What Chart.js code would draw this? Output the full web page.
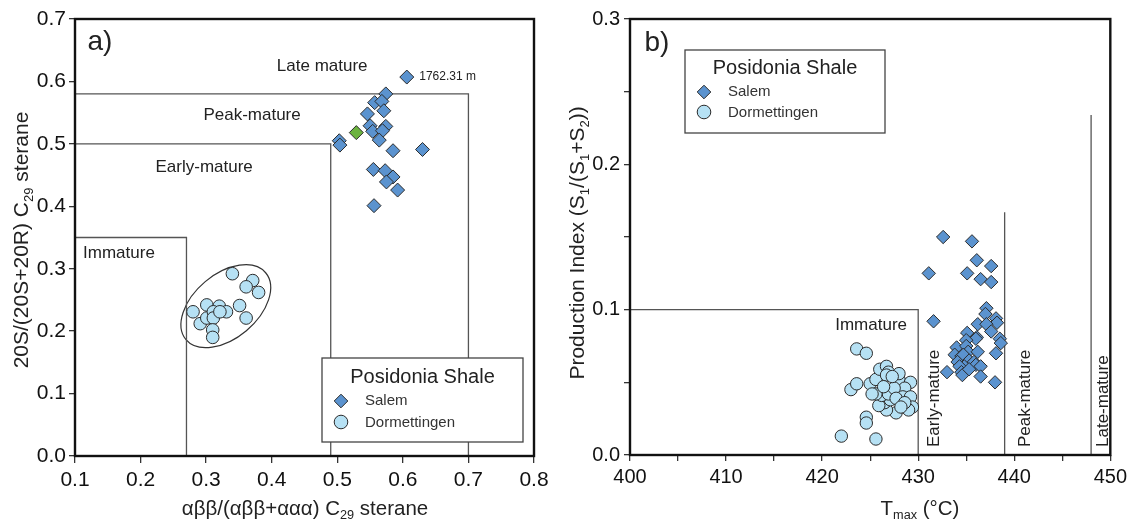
<!DOCTYPE html>
<html><head><meta charset="utf-8">
<script src="https://cdn.jsdelivr.net/npm/chart.js@4"></script>
<style>
html,body{margin:0;padding:0;background:#fff;}
#wrap{position:relative;width:1131px;height:522px;overflow:hidden;}
canvas{position:absolute;top:0;}
#ca{left:0;} #cb{left:560px;}
</style></head><body>
<div id="wrap"><canvas id="ca" width="560" height="522"></canvas><canvas id="cb" width="571" height="522"></canvas></div>
<script>
const FONT = "'Liberation Sans', Arial, Helvetica, sans-serif";

// ---------- Panel a data ----------
const aXTickLabels = ['0.1','0.2','0.3','0.4','0.5','0.6','0.7','0.8'];
const aYTickLabels = ['0.0','0.1','0.2','0.3','0.4','0.5','0.6','0.7'];
const aSalem = [[0.606,0.607],[0.574,0.580],[0.557,0.566],[0.568,0.568],[0.571,0.553],[0.546,0.548],
  [0.550,0.529],[0.574,0.528],[0.554,0.520],[0.569,0.521],[0.564,0.506],[0.503,0.505],[0.504,0.498],
  [0.585,0.489],[0.630,0.491],[0.555,0.459],[0.573,0.457],[0.585,0.447],[0.575,0.439],[0.592,0.426],[0.556,0.401]];
const aSalemHighlight = [[0.529,0.518]];
const aDormettingen = [[0.340,0.292],[0.371,0.281],[0.361,0.271],[0.380,0.262],[0.280,0.231],[0.301,0.242],
  [0.320,0.240],[0.331,0.231],[0.351,0.241],[0.361,0.221],[0.291,0.212],[0.301,0.221],[0.311,0.231],
  [0.311,0.221],[0.321,0.231],[0.310,0.202],[0.310,0.190]];
const aImmature = [[0.1,0.35],[0.27,0.35],[0.27,0]];
const aEarly = [[0.1,0.5],[0.49,0.5],[0.49,0]];
const aPeak = [[0.1,0.58],[0.7,0.58],[0.7,0]];

// ---------- Panel b data ----------
const bXTickLabels = ['400','410','420','430','440','450'];
const bYTickLabels = ['0.0','0.1','0.2','0.3'];
const bSalem = [[432.6,0.150],[435.6,0.147],[431.1,0.125],[436.1,0.134],[437.6,0.130],[435.1,0.125],[436.5,0.121],
  [437.6,0.119],[431.6,0.092],[437.1,0.101],[437.0,0.097],[438.1,0.094],[438.2,0.091],[436.2,0.090],[437.1,0.090],
  [435.1,0.084],[437.6,0.085],[436.1,0.081],[436.0,0.080],[438.5,0.080],[438.6,0.077],[435.0,0.079],[434.0,0.074],
  [435.0,0.075],[435.2,0.071],[436.2,0.071],[438.1,0.070],[433.8,0.069],[434.5,0.068],[434.7,0.069],[434.1,0.064],
  [435.3,0.065],[435.8,0.064],[436.0,0.062],[434.8,0.061],[436.5,0.061],[434.3,0.061],[433.0,0.057],[434.5,0.057],
  [434.6,0.055],[435.3,0.059],[436.5,0.054],[438.0,0.050]];
const bDormettingen = [[423.6,0.073],[424.6,0.070],[422.0,0.013],[425.6,0.011],[424.6,0.026],[424.6,0.022],
  [423.0,0.045],[423.6,0.049],[425.0,0.049],[425.6,0.052],[426.0,0.059],[426.7,0.061],[426.9,0.057],[426.7,0.055],
  [428.0,0.052],[429.2,0.050],[428.6,0.046],[428.4,0.040],[429.2,0.040],[429.4,0.033],[429.0,0.031],[427.7,0.029],
  [426.7,0.031],[426.5,0.036],[425.9,0.034],[427.1,0.038],[426.2,0.041],[426.9,0.042],[425.6,0.042],[425.2,0.042],
  [427.5,0.046],[426.4,0.047],[428.0,0.056],[427.3,0.054],[427.7,0.039],[428.6,0.036],[428.2,0.033]];
const bImmature = [[400,0.1],[430,0.1],[430,0]];
const bPeak = [[439,0],[439,0.167]];
const bLate = [[448,0],[448,0.234]];

// ---------- helpers ----------
const pts = arr => arr.map(([x,y]) => ({x, y}));
function labelFrom(list){
  return function(v){
    for (const l of list){ if (Math.abs(parseFloat(l) - v) < 1e-6) return l; }
    return '';
  };
}
const SALEM_FILL = '#5b93cf', DORM_FILL = '#b6e1f4', EDGE = '#2b2b2b';
function pointSet(label, data, style, r, fill){
  return {label, data: pts(data), pointStyle: style, pointRadius: r, pointHoverRadius: r,
    backgroundColor: fill, borderColor: EDGE, borderWidth: 1, showLine: false, order: 1};
}
function lineSet(data){
  return {label: '', data: pts(data), showLine: true, pointRadius: 0, borderColor: '#555',
    borderWidth: 1.3, fill: false, tension: 0, order: 5};
}
function drawRich(ctx, parts, cx, cy, size, rot, color){
  ctx.save();
  ctx.translate(cx, cy);
  if (rot) ctx.rotate(rot);
  ctx.fillStyle = color || '#222';
  ctx.textBaseline = 'middle';
  ctx.textAlign = 'left';
  let total = 0;
  const widths = parts.map(p => {
    ctx.font = (p.sub ? size*0.62 : size) + 'px ' + FONT;
    const w = ctx.measureText(p.t).width; total += w; return w;
  });
  let x = -total/2;
  parts.forEach((p,i) => {
    ctx.font = (p.sub ? size*0.62 : size) + 'px ' + FONT;
    ctx.fillText(p.t, x, p.sub ? size*0.33 : 0);
    x += widths[i];
  });
  ctx.restore();
}
function diamond(ctx, x, y, r, fill){
  ctx.beginPath();
  ctx.moveTo(x - r, y); ctx.lineTo(x, y - r); ctx.lineTo(x + r, y); ctx.lineTo(x, y + r); ctx.closePath();
  ctx.fillStyle = fill; ctx.fill(); ctx.strokeStyle = EDGE; ctx.lineWidth = 1; ctx.stroke();
}
function circle(ctx, x, y, r, fill){
  ctx.beginPath(); ctx.arc(x, y, r, 0, Math.PI*2);
  ctx.fillStyle = fill; ctx.fill(); ctx.strokeStyle = EDGE; ctx.lineWidth = 1; ctx.stroke();
}

const deco = {
  id: 'deco',
  beforeDatasetsDraw(chart, args, o){
    const ctx = chart.ctx, xs = chart.scales.x, ys = chart.scales.y;
    if (o.ellipse){
      const e = o.ellipse;
      ctx.save();
      ctx.beginPath();
      ctx.ellipse(xs.getPixelForValue(e.cx), ys.getPixelForValue(e.cy), e.rx, e.ry, e.rot*Math.PI/180, 0, Math.PI*2);
      ctx.strokeStyle = '#333'; ctx.lineWidth = 1.2; ctx.stroke();
      ctx.restore();
    }
  },
  afterDatasetsDraw(chart, args, o){
    const ctx = chart.ctx, xs = chart.scales.x, ys = chart.scales.y, ca = chart.chartArea;
    ctx.save();
    (o.labels || []).forEach(l => {
      ctx.save();
      ctx.font = l.size + 'px ' + FONT;
      ctx.fillStyle = '#222';
      ctx.textBaseline = 'middle';
      const px = xs.getPixelForValue(l.x), py = ys.getPixelForValue(l.y);
      if (l.rot){
        ctx.translate(px, py); ctx.rotate(-Math.PI/2); ctx.textAlign = 'left'; ctx.fillText(l.t, 0, 0);
      } else {
        ctx.textAlign = l.align || 'center'; ctx.fillText(l.t, px, py);
      }
      ctx.restore();
    });
    const L = o.legend;
    if (L){
      ctx.fillStyle = '#fff'; ctx.fillRect(L.x, L.y, L.w, L.h);
      ctx.strokeStyle = '#444'; ctx.lineWidth = 1.3; ctx.strokeRect(L.x, L.y, L.w, L.h);
      ctx.fillStyle = '#222'; ctx.font = '20px ' + FONT; ctx.textAlign = 'center'; ctx.textBaseline = 'middle';
      ctx.fillText('Posidonia Shale', L.x + L.w/2, L.y + L.ty);
      diamond(ctx, L.x + L.mx, L.y + L.y1, 6.8, SALEM_FILL);
      circle(ctx, L.x + L.mx, L.y + L.y2, 6.8, DORM_FILL);
      ctx.fillStyle = '#333'; ctx.font = '15px ' + FONT; ctx.textAlign = 'left';
      ctx.fillText('Salem', L.x + L.tx, L.y + L.y1);
      ctx.fillText('Dormettingen', L.x + L.tx, L.y + L.y2 + 1);
    }
    ctx.strokeStyle = '#111'; ctx.lineWidth = 2.4;
    ctx.strokeRect(ca.left, ca.top, ca.right - ca.left, ca.bottom - ca.top);
    ctx.restore();
  },
  afterDraw(chart, args, o){
    const ctx = chart.ctx;
    (o.titles || []).forEach(t => drawRich(ctx, t.parts, t.x, t.y, t.size, t.rot, '#222'));
  }
};

function axis(min, max, step, labels, size, pad, tick, fitKey, fitVal){
  return {
    type: 'linear', min, max,
    ticks: {stepSize: step, autoSkip: false, maxRotation: 0, color: '#111', padding: pad,
      font: {size, family: FONT}, callback: labelFrom(labels)},
    grid: {drawOnChartArea: false, drawTicks: true, tickLength: tick, color: '#333', lineWidth: 1.3},
    border: {display: false},
    afterFit(s){ s[fitKey] = fitVal; }
  };
}

new Chart(document.getElementById('ca'), {
  type: 'scatter',
  data: {datasets: [
    pointSet('Salem', aSalem, 'rectRot', 7, SALEM_FILL),
    pointSet('Salem highlight', aSalemHighlight, 'rectRot', 7, '#6cb33f'),
    pointSet('Dormettingen', aDormettingen, 'circle', 6.3, DORM_FILL),
    lineSet(aImmature), lineSet(aEarly), lineSet(aPeak)
  ]},
  options: {
    responsive: false, animation: false, devicePixelRatio: 1,
    layout: {padding: {top: 19, right: 26, left: 0, bottom: 0}},
    scales: {
      x: axis(0.1, 0.8, 0.1, aXTickLabels, 21, 5, 7, 'height', 66),
      y: axis(0, 0.7, 0.1, aYTickLabels, 21, 3, 6, 'width', 75)
    },
    plugins: {
      legend: {display: false}, tooltip: {enabled: false},
      deco: {
        ellipse: {cx: 0.330, cy: 0.240, rx: 52, ry: 32, rot: -40},
        labels: [
          {t: 'a)', x: 0.138, y: 0.662, size: 28},
          {t: 'Late mature', x: 0.477, y: 0.625, size: 17},
          {t: '1762.31 m', x: 0.625, y: 0.607, size: 12, align: 'left'},
          {t: 'Peak-mature', x: 0.370, y: 0.545, size: 17},
          {t: 'Early-mature', x: 0.297, y: 0.463, size: 17},
          {t: 'Immature', x: 0.167, y: 0.324, size: 17}
        ],
        legend: {x: 322, y: 358, w: 201, h: 84, ty: 19, y1: 43, y2: 64, mx: 19, tx: 43},
        titles: [
          {parts: [{t: '20S/(20S+20R) C'}, {t: '29', sub: true}, {t: ' sterane'}], x: 22, y: 240, size: 21, rot: -Math.PI/2},
          {parts: [{t: 'αββ/(αββ+ααα) C'}, {t: '29', sub: true}, {t: ' sterane'}], x: 305, y: 509, size: 20.5}
        ]
      }
    }
  },
  plugins: [deco]
});

new Chart(document.getElementById('cb'), {
  type: 'scatter',
  data: {datasets: [
    pointSet('Salem', bSalem, 'rectRot', 6.7, SALEM_FILL),
    pointSet('Dormettingen', bDormettingen, 'circle', 6.2, DORM_FILL),
    lineSet(bImmature), lineSet(bPeak), lineSet(bLate)
  ]},
  options: {
    responsive: false, animation: false, devicePixelRatio: 1,
    layout: {padding: {top: 19, right: 17, left: 0, bottom: 0}},
    scales: {
      x: axis(400, 450, 5, bXTickLabels, 20, 4, 6, 'height', 67),
      y: axis(0, 0.3, 0.05, bYTickLabels, 20, 4, 6, 'width', 70)
    },
    plugins: {
      legend: {display: false}, tooltip: {enabled: false},
      deco: {
        labels: [
          {t: 'b)', x: 402.8, y: 0.2836, size: 28},
          {t: 'Immature', x: 425.1, y: 0.0895, size: 17},
          {t: 'Early-mature', x: 431.65, y: 0.0055, size: 17, rot: true},
          {t: 'Peak-mature', x: 441.1, y: 0.0055, size: 17, rot: true},
          {t: 'Late-mature', x: 449.3, y: 0.0055, size: 17, rot: true}
        ],
        legend: {x: 125, y: 50, w: 200, h: 83, ty: 18, y1: 42, y2: 62, mx: 19, tx: 43},
        titles: [
          {parts: [{t: 'Production Index (S'}, {t: '1', sub: true}, {t: '/(S'}, {t: '1', sub: true}, {t: '+S'}, {t: '2', sub: true}, {t: '))'}], x: 18, y: 243, size: 21, rot: -Math.PI/2},
          {parts: [{t: 'T'}, {t: 'max', sub: true}, {t: ' (°C)'}], x: 360, y: 509, size: 20.5}
        ]
      }
    }
  },
  plugins: [deco]
});
</script>
</body></html>
